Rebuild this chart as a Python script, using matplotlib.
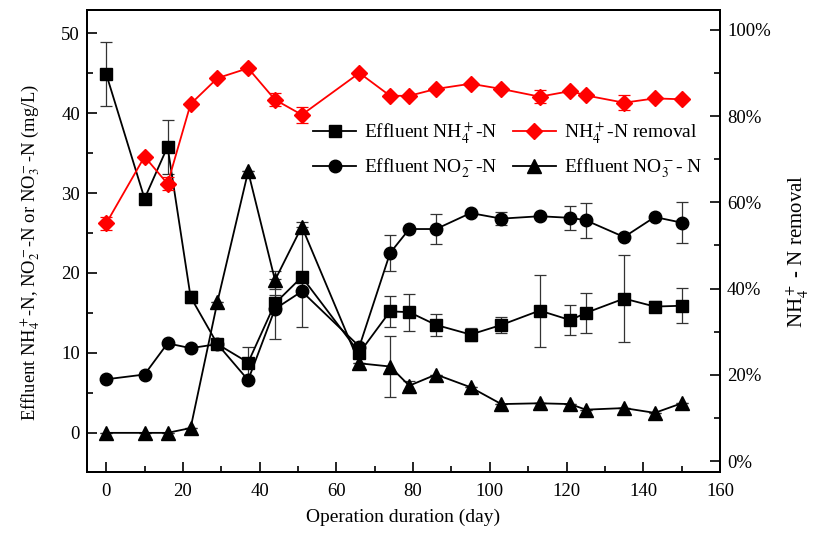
import matplotlib
matplotlib.use("Agg")
import matplotlib.pyplot as plt
from matplotlib.ticker import MultipleLocator, FuncFormatter

plt.rcParams['font.family'] = ['Liberation Serif', 'DejaVu Serif']
plt.rcParams['mathtext.fontset'] = 'stix'

days = [0, 10, 16, 22, 29, 37, 44, 51, 66, 74, 79, 86, 95, 103, 113, 121, 125, 135, 143, 150]

nh4 = [44.9, 29.3, 35.8, 17.0, 11.1, 8.8, 16.2, 19.5, 10.0, 15.2, 15.1, 13.5, 12.3, 13.5, 15.3, 14.1, 15.0, 16.8, 15.8, 15.9]
nh4_err = [4.0, 0.0, 3.4, 0.7, 0.0, 2.0, 1.0, 6.3, 0.0, 1.9, 2.3, 1.4, 0.8, 1.0, 4.5, 1.9, 2.5, 5.4, 0.7, 2.2]

no2 = [6.7, 7.3, 11.2, 10.6, 11.1, 6.6, 15.5, 17.7, 10.8, 22.5, 25.5, 25.5, 27.5, 26.8, 27.1, 26.9, 26.6, 24.5, 27.0, 26.3]
no2_err = [0.0, 0.0, 0.0, 0.0, 0.0, 0.0, 3.7, 0.0, 0.0, 2.3, 0.0, 1.9, 0.0, 0.8, 0.0, 1.5, 2.2, 0.0, 0.0, 2.6]

no3 = [0.0, 0.0, 0.0, 0.6, 16.4, 32.7, 19.1, 25.8, 8.7, 8.3, 5.9, 7.3, 5.7, 3.6, 3.7, 3.6, 2.9, 3.1, 2.5, 3.7]
no3_err = [0.0, 0.0, 0.0, 0.0, 0.0, 0.0, 1.1, 0.6, 0.0, 3.8, 0.6, 0.0, 0.0, 0.0, 0.0, 0.0, 0.0, 0.0, 0.0, 0.0]

removal = [55.1, 70.6, 64.3, 82.8, 88.8, 91.1, 83.8, 80.3, 90.0, 84.7, 84.7, 86.3, 87.5, 86.3, 84.5, 85.8, 84.8, 83.1, 84.1, 83.9]
removal_err = [1.5, 0.0, 1.5, 0.0, 0.0, 0.0, 1.5, 1.8, 0.0, 0.0, 0.0, 0.0, 0.0, 0.0, 1.5, 0.0, 0.0, 1.7, 0.0, 0.0]

fig = plt.figure(figsize=(8.14, 5.41), dpi=100)
ax = fig.add_axes([0.1069, 0.1275, 0.7776, 0.854])
ax2 = ax.twinx()

ebkw = dict(elinewidth=0.9, capsize=4, capthick=0.9, lw=1.3)
h1 = ax.errorbar(days, nh4, yerr=nh4_err, color='black', marker='s', ms=8.5, ecolor='#333333', **ebkw)
h2 = ax.errorbar(days, no2, yerr=no2_err, color='black', marker='o', ms=9, ecolor='#333333', **ebkw)
h4 = ax.errorbar(days, no3, yerr=no3_err, color='black', marker='^', ms=9.5, ecolor='#333333', **ebkw)
h3 = ax2.errorbar(days, removal, yerr=removal_err, color='red', marker='D', ms=8, mec='red', ecolor='red', **ebkw)

ax.set_xlim(-5, 160)
ax.set_ylim(-4.9, 52.9)
ax2.set_ylim(-2.55, 104.6)

ax.xaxis.set_major_locator(MultipleLocator(20))
ax.xaxis.set_minor_locator(MultipleLocator(10))
ax.yaxis.set_major_locator(MultipleLocator(10))
ax.yaxis.set_minor_locator(MultipleLocator(5))
ax2.yaxis.set_major_locator(MultipleLocator(20))
ax2.yaxis.set_minor_locator(MultipleLocator(10))
ax2.yaxis.set_major_formatter(FuncFormatter(lambda v, p: f"{int(round(v))}%"))

for a in (ax, ax2):
    a.tick_params(which='both', direction='in', labelsize=13.5, width=1.2)
    a.tick_params(which='major', length=7)
    a.tick_params(which='minor', length=4)
    for s in a.spines.values():
        s.set_linewidth(1.4)
ax.tick_params(axis='x', which='both', top=False, pad=8)
ax.tick_params(axis='y', which='both', right=False, pad=5)
ax2.tick_params(axis='y', which='both', pad=5)

ax.set_xlabel('Operation duration (day)', fontsize=14, labelpad=6)
ax.set_ylabel(r'Effluent NH$_4^+$-N, NO$_2^-$-N or NO$_3^-$-N (mg/L)', fontsize=13.3)
ax.yaxis.set_label_coords(-0.071, 0.476)
ax2.set_ylabel(r'NH$_4^+$ - N removal', fontsize=15)
ax2.yaxis.set_label_coords(1.103, 0.478)

leg = ax2.legend([h1[0], h2[0], h3[0], h4[0]],
                 [r'Effluent NH$_4^+$-N', r'Effluent NO$_2^-$-N', r'NH$_4^+$-N removal', r'Effluent NO$_3^-$- N'],
                 ncol=2, frameon=False, fontsize=14, loc='upper left',
                 bbox_to_anchor=(0.33, 0.80), handlelength=2.2, columnspacing=0.8,
                 handletextpad=0.4, labelspacing=0.6)

fig.savefig('out.png', dpi=100)
